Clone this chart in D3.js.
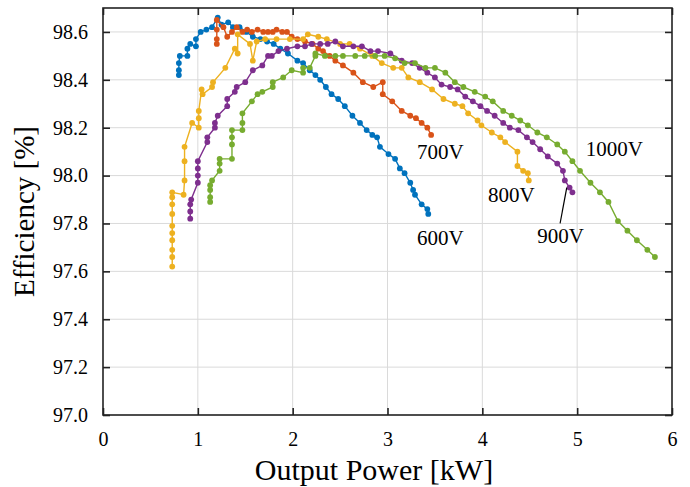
<!DOCTYPE html>
<html>
<head>
<meta charset="utf-8">
<script src="https://cdn.jsdelivr.net/npm/d3@7"></script>
<style>
  body { margin: 0; background: #fff; }
  text { font-family: "Liberation Serif", "DejaVu Serif", serif; fill: #000; }
</style>
</head>
<body>
<div id="chart"></div>
<script>
// measured points [kW, efficiency %] per input voltage
const v600 = [[0.80,98.42],[0.80,98.44],[0.80,98.47],[0.81,98.50],[0.89,98.50],[0.89,98.53],[0.92,98.55],[0.98,98.54],[0.98,98.57],[1.03,98.60],[1.09,98.61],[1.15,98.62],[1.21,98.66],[1.25,98.63],[1.32,98.64],[1.37,98.62],[1.44,98.62],[1.51,98.60],[1.58,98.58],[1.66,98.57],[1.73,98.56],[1.80,98.55],[1.87,98.53],[1.95,98.51],[2.05,98.48],[2.11,98.47],[2.18,98.44],[2.24,98.42],[2.29,98.40],[2.35,98.37],[2.41,98.34],[2.48,98.32],[2.55,98.29],[2.63,98.25],[2.71,98.22],[2.78,98.19],[2.84,98.17],[2.89,98.16],[2.92,98.12],[3.01,98.09],[3.08,98.07],[3.13,98.03],[3.18,98.01],[3.24,97.97],[3.27,97.94],[3.29,97.92],[3.36,97.88],[3.42,97.86],[3.43,97.84]];
const v700 = [[1.20,98.55],[1.20,98.57],[1.20,98.61],[1.20,98.65],[1.27,98.62],[1.31,98.58],[1.36,98.60],[1.41,98.62],[1.47,98.60],[1.52,98.61],[1.57,98.60],[1.63,98.61],[1.69,98.60],[1.74,98.60],[1.79,98.60],[1.83,98.61],[1.89,98.60],[1.94,98.60],[1.99,98.58],[2.05,98.57],[2.13,98.56],[2.21,98.55],[2.27,98.53],[2.32,98.52],[2.39,98.50],[2.45,98.48],[2.53,98.46],[2.64,98.43],[2.74,98.39],[2.85,98.37],[2.95,98.39],[2.95,98.34],[3.05,98.31],[3.15,98.27],[3.24,98.25],[3.30,98.24],[3.36,98.22],[3.42,98.20],[3.46,98.17]];
const v800 = [[0.73,97.62],[0.73,97.66],[0.73,97.69],[0.73,97.73],[0.73,97.76],[0.73,97.79],[0.73,97.84],[0.73,97.88],[0.73,97.91],[0.73,97.93],[0.85,97.92],[0.86,97.98],[0.86,98.06],[0.86,98.12],[0.94,98.22],[1.01,98.20],[1.01,98.24],[1.01,98.27],[1.04,98.36],[1.05,98.34],[1.15,98.37],[1.16,98.39],[1.29,98.45],[1.39,98.53],[1.42,98.51],[1.42,98.59],[1.55,98.55],[1.58,98.48],[1.62,98.56],[1.71,98.57],[1.83,98.57],[1.97,98.57],[2.11,98.57],[2.16,98.59],[2.27,98.58],[2.36,98.57],[2.50,98.55],[2.60,98.55],[2.71,98.53],[2.84,98.50],[2.94,98.47],[3.06,98.45],[3.15,98.45],[3.22,98.41],[3.34,98.39],[3.47,98.36],[3.59,98.32],[3.71,98.30],[3.79,98.29],[3.85,98.26],[3.95,98.23],[3.99,98.21],[4.10,98.18],[4.19,98.16],[4.24,98.14],[4.37,98.10],[4.37,98.04],[4.43,98.02],[4.48,98.01],[4.49,97.98]];
const v900 = [[0.92,97.82],[0.92,97.85],[0.92,97.88],[0.93,97.90],[1.00,97.97],[1.00,98.00],[1.00,98.03],[1.00,98.06],[1.10,98.14],[1.10,98.16],[1.18,98.20],[1.18,98.22],[1.21,98.25],[1.31,98.29],[1.31,98.32],[1.39,98.35],[1.41,98.37],[1.50,98.39],[1.58,98.44],[1.68,98.46],[1.74,98.50],[1.78,98.50],[1.85,98.52],[1.94,98.53],[2.05,98.54],[2.13,98.54],[2.20,98.55],[2.29,98.55],[2.37,98.55],[2.45,98.56],[2.53,98.54],[2.64,98.54],[2.73,98.54],[2.82,98.52],[2.90,98.52],[3.03,98.51],[3.15,98.48],[3.26,98.47],[3.34,98.45],[3.42,98.43],[3.50,98.41],[3.57,98.38],[3.66,98.37],[3.74,98.36],[3.82,98.33],[3.90,98.31],[3.98,98.29],[4.05,98.27],[4.13,98.25],[4.22,98.22],[4.29,98.20],[4.38,98.19],[4.47,98.16],[4.53,98.14],[4.61,98.11],[4.69,98.08],[4.79,98.05],[4.85,98.02],[4.87,97.98],[4.92,97.95],[4.95,97.93]];
const v1000 = [[1.13,97.89],[1.13,97.91],[1.13,97.94],[1.13,97.96],[1.15,97.98],[1.23,98.02],[1.23,98.05],[1.23,98.07],[1.36,98.07],[1.36,98.13],[1.36,98.16],[1.36,98.19],[1.47,98.19],[1.47,98.22],[1.47,98.26],[1.57,98.31],[1.63,98.34],[1.68,98.35],[1.79,98.37],[1.79,98.39],[1.90,98.41],[1.99,98.44],[2.11,98.43],[2.11,98.45],[2.18,98.45],[2.24,98.50],[2.24,98.51],[2.34,98.50],[2.45,98.50],[2.53,98.50],[2.66,98.50],[2.76,98.50],[2.87,98.50],[2.97,98.50],[3.08,98.49],[3.18,98.47],[3.29,98.47],[3.40,98.45],[3.50,98.45],[3.61,98.43],[3.71,98.39],[3.80,98.37],[3.92,98.35],[4.03,98.33],[4.11,98.31],[4.22,98.27],[4.31,98.25],[4.40,98.23],[4.48,98.21],[4.58,98.18],[4.68,98.16],[4.79,98.13],[4.87,98.10],[4.95,98.06],[5.03,98.02],[5.14,97.97],[5.24,97.93],[5.33,97.89],[5.43,97.81],[5.53,97.77],[5.63,97.73],[5.74,97.69],[5.82,97.66]];

const seriesNames = ["600V", "700V", "800V", "900V", "1000V"];
const seriesColors = ["#0072BD", "#D95319", "#EDB120", "#7E2F8E", "#77AC30"];
const seriesData = [v600, v700, v800, v900, v1000];

// label anchor positions (text baseline start) in data units [kW, %]
const labelPos = [[3.31, 97.71], [3.31, 98.07], [4.06, 97.89], [4.58, 97.72], [5.09, 98.08]];
const xTicks = [0, 1, 2, 3, 4, 5, 6];
const yTicks = [97.0, 97.2, 97.4, 97.6, 97.8, 98.0, 98.2, 98.4, 98.6];

const W = 690, H = 487;
const margin = {top: 8, right: 18, bottom: 72, left: 103};
const width = W - margin.left - margin.right;
const height = H - margin.top - margin.bottom;

const svg = d3.select("#chart").append("svg")
    .attr("width", W).attr("height", H);
const g = svg.append("g")
    .attr("transform", "translate(" + margin.left + "," + margin.top + ")");

const x = d3.scaleLinear().domain([0, 6]).range([0, width]);
const y = d3.scaleLinear().domain([97.0, 98.7]).range([height, 0]);

// grid
g.append("g").selectAll("line").data(xTicks.slice(1, -1)).join("line")
    .attr("x1", d => x(d)).attr("x2", d => x(d))
    .attr("y1", 0).attr("y2", height)
    .attr("stroke", "#dadada").attr("stroke-width", 1);
g.append("g").selectAll("line").data(yTicks.slice(1)).join("line")
    .attr("y1", d => y(d)).attr("y2", d => y(d))
    .attr("x1", 0).attr("x2", width)
    .attr("stroke", "#dadada").attr("stroke-width", 1);

// series
const line = d3.line().x(d => x(d[0])).y(d => y(d[1]));
seriesData.forEach(function(data, i) {
    g.append("path").datum(data)
        .attr("fill", "none")
        .attr("stroke", seriesColors[i])
        .attr("stroke-width", 1.4)
        .attr("d", line);
    g.append("g").selectAll("circle").data(data).join("circle")
        .attr("cx", d => x(d[0])).attr("cy", d => y(d[1]))
        .attr("r", 2.9)
        .attr("fill", seriesColors[i]);
});

// axes, ticks inward on all sides
const tickLen = 7;
const xb = d3.axisBottom(x).tickValues(xTicks).tickSize(-tickLen).tickPadding(tickLen + 10).tickFormat(d3.format("d"));
const yl = d3.axisLeft(y).tickValues(yTicks).tickSize(-tickLen).tickPadding(tickLen + 8).tickFormat(d3.format(".1f"));
const xt = d3.axisTop(x).tickValues(xTicks).tickSize(-tickLen).tickFormat("");
const yr = d3.axisRight(y).tickValues(yTicks).tickSize(-tickLen).tickFormat("");

const gx = g.append("g").attr("transform", "translate(0," + height + ")").call(xb);
const gy = g.append("g").call(yl);
const gxt = g.append("g").call(xt);
const gyr = g.append("g").attr("transform", "translate(" + width + ",0)").call(yr);

[gx, gy, gxt, gyr].forEach(function(a) {
    a.select(".domain").remove();
    a.selectAll(".tick line").attr("stroke", "#222").attr("stroke-width", 1.6);
    a.selectAll("text").style("font-family", "'Liberation Serif', serif").style("font-size", "20px").attr("fill", "#222");
});

g.append("rect").attr("width", width).attr("height", height)
    .attr("fill", "none").attr("stroke", "#222").attr("stroke-width", 1.6);

// series labels
seriesNames.forEach(function(name, i) {
    g.append("text")
        .attr("x", x(labelPos[i][0])).attr("y", y(labelPos[i][1]))
        .style("font-size", "21px")
        .text(name);
});
// leader line from 900V label to its curve
g.append("line")
    .attr("x1", x(4.82)).attr("y1", y(97.80))
    .attr("x2", x(4.89)).attr("y2", y(97.95))
    .attr("stroke", "#000").attr("stroke-width", 1.2);

// axis titles
svg.append("text")
    .attr("x", 374).attr("y", 480)
    .attr("text-anchor", "middle")
    .style("font-size", "30px")
    .text("Output Power [kW]");
svg.append("text")
    .attr("transform", "translate(34," + (margin.top + height / 2) + ") rotate(-90)")
    .attr("text-anchor", "middle")
    .style("font-size", "29px")
    .text("Efficiency [%]");
</script>
</body>
</html>
